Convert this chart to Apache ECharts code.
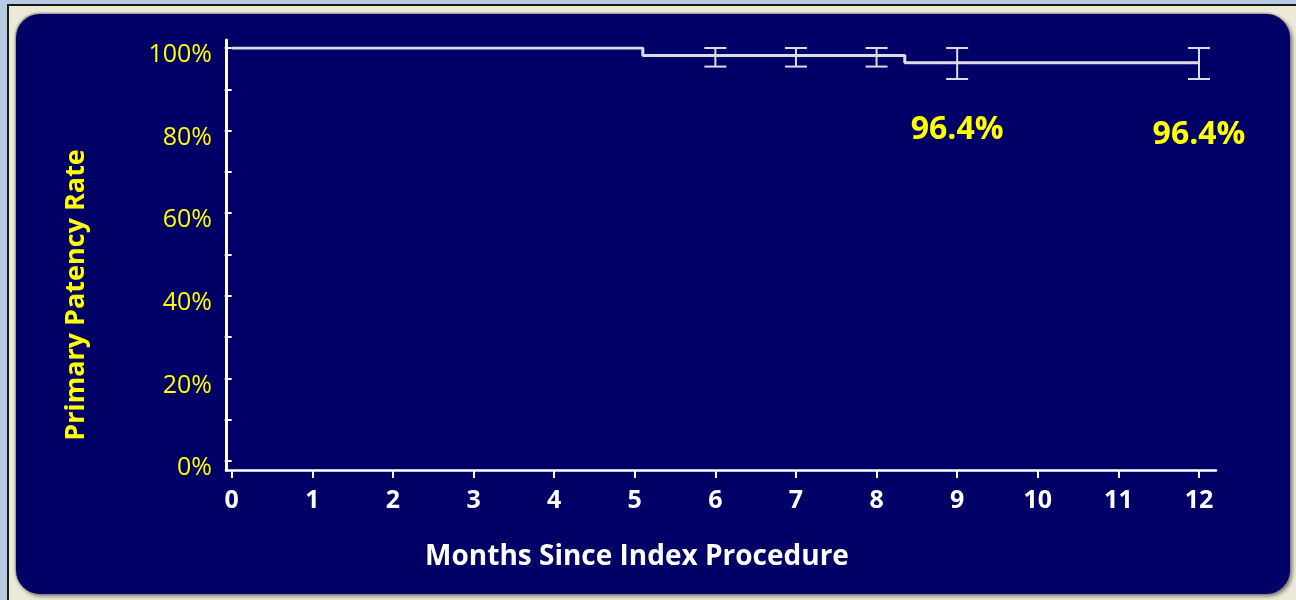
<!DOCTYPE html>
<html>
<head>
<meta charset="utf-8">
<script src="https://cdn.jsdelivr.net/npm/echarts@6/dist/echarts.min.js"></script>
<style>
  html, body { margin: 0; padding: 0; width: 1296px; height: 600px; overflow: hidden; background: #b8cbe4; }
  #frame { position: absolute; left: 7px; top: 4px; width: 1289px; height: 596px; background: #ece9d8;
           border-left: 2px solid #1a1a1a; border-top: 2px solid #1a1a1a; box-sizing: border-box; }
  #panel { position: absolute; left: 16px; top: 14px; width: 1274px; height: 580px; background: #000066;
           border-radius: 24px; box-shadow: 2px 2px 4px rgba(0,0,0,0.55), -1px -1px 2px rgba(0,0,0,0.35); }
  #chart { position: absolute; left: 0; top: 0; width: 1296px; height: 600px; }
</style>
</head>
<body>
<div id="frame"></div>
<div id="panel"></div>
<div id="chart"></div>
<script>
// Kaplan-Meier primary patency estimate (step curve)
const curveMonths = [0, 5.1, 8.35, 12];
const curvePatency = [100, 98.2, 96.4, 96.4];

// Confidence intervals at follow-up visits
const ciMonths = [6, 7, 8, 9, 12];
const ciLower = [95.5, 95.5, 95.5, 92.5, 92.5];
const ciUpper = [100, 100, 100, 100, 100];

// Annotated milestone estimates
const milestoneMonths = [9, 12];
const milestoneValues = [96.4, 96.4];

// Axis ticks
const monthTicks = [0, 1, 2, 3, 4, 5, 6, 7, 8, 9, 10, 11, 12];
const rateLabelStep = 20;

const FONT = '"Open Sans", "DejaVu Sans", sans-serif';
const YELLOW = '#ffff00';
const LINE = '#dcdce6';

const chart = echarts.init(document.getElementById('chart'), null, { renderer: 'canvas' });

const milestoneOffsets = [[0, 67], [0, 72]];

const option = {
  backgroundColor: 'transparent',
  animation: false,
  grid: [
    // data area
    { left: 231.7, right: 97, top: 48, bottom: 139 },
    // frame carrying the long axis lines
    { left: 226, right: 80, top: 40, bottom: 130 }
  ],
  xAxis: [
    {
      type: 'value', gridIndex: 0,
      min: monthTicks[0], max: monthTicks[monthTicks.length - 1], interval: 1,
      offset: 9,
      axisLine: { show: false, onZero: false },
      axisTick: { show: true, length: 8, lineStyle: { color: '#ffffff', width: 2 } },
      axisLabel: { color: '#ffffff', fontFamily: FONT, fontSize: 25, fontWeight: 'bold', margin: 18 },
      splitLine: { show: false }
    },
    {
      type: 'value', gridIndex: 1, min: 0, max: 1,
      axisLine: { show: true, onZero: false, lineStyle: { color: '#ffffff', width: 2.5 } },
      axisTick: { show: false }, axisLabel: { show: false }, splitLine: { show: false }
    }
  ],
  yAxis: [
    {
      type: 'value', gridIndex: 0, min: 0, max: 100, interval: 10,
      offset: 5.7,
      axisLine: { show: false },
      axisTick: { show: true, length: 7, lineStyle: { color: '#ffffff', width: 2 } },
      axisLabel: {
        color: YELLOW, fontFamily: FONT, fontSize: 25, margin: 14,
        verticalAlign: 'top', lineHeight: 14,
        formatter: v => (v % rateLabelStep === 0 ? v + '%' : '')
      },
      splitLine: { show: false }
    },
    {
      type: 'value', gridIndex: 1, min: 0, max: 1,
      axisLine: { show: true, onZero: false, lineStyle: { color: '#ffffff', width: 3 } },
      axisTick: { show: false }, axisLabel: { show: false }, splitLine: { show: false }
    }
  ],
  graphic: [
    {
      type: 'text', x: 76, y: 295, rotation: Math.PI / 2,
      style: { text: 'Primary Patency Rate', fill: YELLOW, font: 'bold 27px ' + FONT,
               align: 'center', verticalAlign: 'middle' }
    },
    {
      type: 'text', x: 637, y: 557,
      style: { text: 'Months Since Index Procedure', fill: '#ffffff', font: 'bold 28px ' + FONT,
               align: 'center', verticalAlign: 'middle' }
    }
  ],
  series: [
    {
      name: 'Primary patency', type: 'line', xAxisIndex: 0, yAxisIndex: 0,
      step: 'end', showSymbol: false,
      lineStyle: { color: LINE, width: 3 },
      data: curveMonths.map((m, i) => [m, curvePatency[i]]),
      z: 2
    },
    {
      name: '95% CI', type: 'custom', xAxisIndex: 0, yAxisIndex: 0,
      encode: { x: 0, y: [1, 2] },
      data: ciMonths.map((m, i) => [m, ciLower[i], ciUpper[i]]),
      renderItem: (params, api) => {
        const lo = api.coord([api.value(0), api.value(1)]);
        const hi = api.coord([api.value(0), api.value(2)]);
        const hw = 11;
        const style = { stroke: LINE, lineWidth: 2 };
        return {
          type: 'group',
          children: [
            { type: 'line', shape: { x1: lo[0], y1: lo[1], x2: hi[0], y2: hi[1] }, style },
            { type: 'line', shape: { x1: hi[0] - hw, y1: hi[1], x2: hi[0] + hw, y2: hi[1] }, style },
            { type: 'line', shape: { x1: lo[0] - hw, y1: lo[1], x2: lo[0] + hw, y2: lo[1] }, style }
          ]
        };
      },
      z: 3
    },
    {
      name: 'Milestones', type: 'scatter', xAxisIndex: 0, yAxisIndex: 0,
      symbolSize: 0,
      itemStyle: { opacity: 1 },
      data: milestoneMonths.map((m, i) => ({
        value: [m, milestoneValues[i]],
        label: { offset: milestoneOffsets[i] }
      })),
      label: {
        show: true, position: 'inside', opacity: 1,
        color: YELLOW, fontFamily: FONT, fontSize: 32, fontWeight: 'bold',
        formatter: p => p.value[1].toFixed(1) + '%'
      },
      z: 4
    }
  ]
};

chart.setOption(option);
</script>
</body>
</html>
